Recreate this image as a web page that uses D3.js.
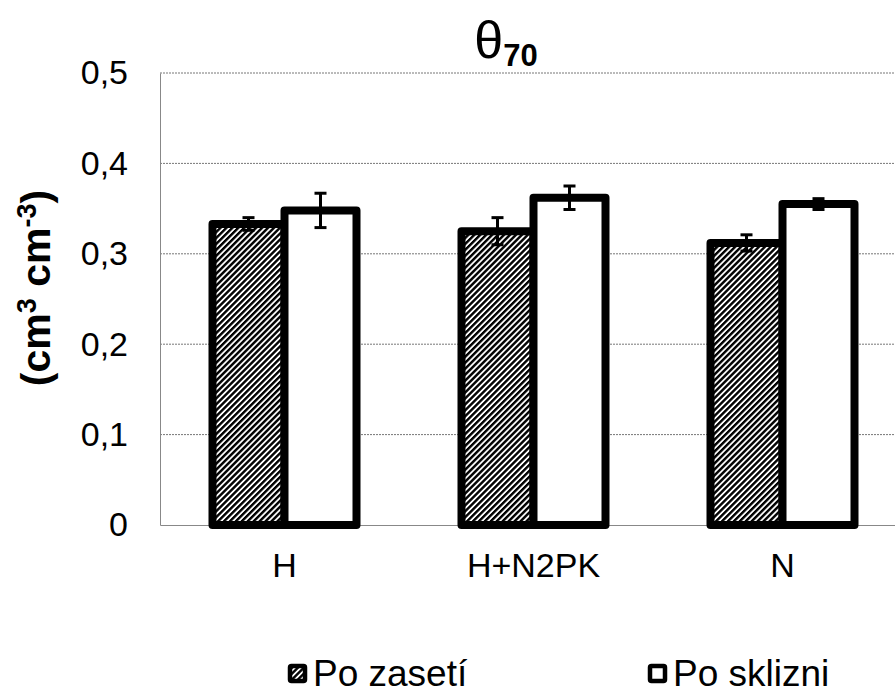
<!DOCTYPE html>
<html>
<head>
<meta charset="utf-8">
<script src="https://cdn.jsdelivr.net/npm/d3@7"></script>
<style>
  body { margin: 0; background: #fff; }
  text { font-family: Arial, "Liberation Sans", sans-serif; }
</style>
</head>
<body>
<svg width="895" height="697"></svg>
<script>
// data
var categories = ['H', 'H+N2PK', 'N'];
var seriesNames = ['Po zasetí', 'Po sklizni'];
var poZaseti = [0.333, 0.325, 0.312];
var poZasetiErr = [0.007, 0.015, 0.009];
var poSklizni = [0.348, 0.362, 0.355];
var poSklizniErr = [0.019, 0.013, 0.006];
var yTicks = [0, 0.1, 0.2, 0.3, 0.4, 0.5];

var margin = { top: 73, left: 160 },
    chartWidth = 747,
    chartHeight = 452;

var svg = d3.select('svg');

// hatch pattern
var defs = svg.append('defs');
var pat = defs.append('pattern')
    .attr('id', 'hatch')
    .attr('patternUnits', 'userSpaceOnUse')
    .attr('width', 4.2)
    .attr('height', 4.2)
    .attr('patternTransform', 'rotate(45)');
pat.append('rect').attr('width', 4.2).attr('height', 4.2).attr('fill', '#fff');
pat.append('line')
    .attr('x1', 1.2).attr('x2', 1.2)
    .attr('y1', 0).attr('y2', 4.2)
    .attr('stroke', '#000').attr('stroke-width', 2.4);

var chart = svg.append('g')
    .attr('transform', 'translate(' + margin.left + ',' + margin.top + ')');

var yScale = d3.scaleLinear().domain([0, 0.5]).range([chartHeight, 0]);
var xScale = d3.scaleBand().domain(categories).range([0, chartWidth]);
var xSub = d3.scaleBand().domain(seriesNames).range([-72, 72]);

// gridlines
chart.append('g')
  .selectAll('line')
  .data(yTicks.filter(function(d) { return d > 0; }))
  .enter().append('line')
    .attr('x1', 0).attr('x2', chartWidth)
    .attr('y1', function(d) { return yScale(d); })
    .attr('y2', function(d) { return yScale(d); })
    .attr('stroke', '#777')
    .attr('stroke-width', 1)
    .attr('stroke-dasharray', '2,1');

// axes
var yAxis = chart.append('g')
    .call(d3.axisLeft(yScale)
      .tickValues(yTicks)
      .tickSize(0)
      .tickPadding(32)
      .tickFormat(function(d) { return d === 0 ? '0' : d3.format('.1f')(d).replace('.', ','); }));
yAxis.select('.domain').attr('stroke', '#888');
yAxis.selectAll('text')
    .attr('font-size', 34)
    .attr('fill', '#000');

var xAxis = chart.append('g')
    .attr('transform', 'translate(0,' + chartHeight + ')')
    .call(d3.axisBottom(xScale).tickSize(0).tickPadding(28));
xAxis.select('.domain').attr('stroke', '#888');
xAxis.selectAll('text')
    .attr('font-size', 34)
    .attr('fill', '#000');

// bars
var rows = categories.map(function(c, i) {
  return [
    { cat: c, s: seriesNames[0], v: poZaseti[i], e: poZasetiErr[i] },
    { cat: c, s: seriesNames[1], v: poSklizni[i], e: poSklizniErr[i] }
  ];
});

var groups = chart.selectAll('.grp')
  .data(rows)
  .enter().append('g')
    .attr('class', 'grp')
    .attr('transform', function(d, i) {
      return 'translate(' + (xScale(categories[i]) + xScale.bandwidth() / 2) + ',0)';
    });

groups.selectAll('rect')
  .data(function(d) { return d; })
  .enter().append('rect')
    .attr('x', function(d) { return xSub(d.s); })
    .attr('width', xSub.bandwidth())
    .attr('y', function(d) { return yScale(d.v); })
    .attr('height', function(d) { return chartHeight - yScale(d.v); })
    .attr('fill', function(d, i) { return i === 0 ? 'url(#hatch)' : '#fff'; })
    .attr('stroke', '#000')
    .attr('stroke-width', 8)
    .attr('stroke-linejoin', 'round');

// error bars
var err = groups.selectAll('.err')
  .data(function(d) { return d; })
  .enter().append('g')
    .attr('class', 'err')
    .attr('transform', function(d) { return 'translate(' + (xSub(d.s) + xSub.bandwidth() / 2) + ',0)'; });
err.append('line')
    .attr('y1', function(d) { return yScale(d.v + d.e); })
    .attr('y2', function(d) { return yScale(d.v - d.e); })
    .attr('stroke', '#000').attr('stroke-width', 3);
err.selectAll('.cap')
  .data(function(d) { return [d.v + d.e, d.v - d.e]; })
  .enter().append('line')
    .attr('x1', -6).attr('x2', 6)
    .attr('y1', function(d) { return yScale(d); })
    .attr('y2', function(d) { return yScale(d); })
    .attr('stroke', '#000').attr('stroke-width', 3);

// title
var title = svg.append('text')
    .attr('x', 506).attr('y', 58)
    .attr('text-anchor', 'middle');
title.append('tspan').attr('font-size', 52).text('θ');
title.append('tspan').attr('font-size', 31).attr('font-weight', 'bold').attr('dy', 8).text('70');

// y title
var yt = svg.append('text')
    .attr('transform', 'translate(50,288) rotate(-90)')
    .attr('text-anchor', 'middle')
    .attr('font-size', 41)
    .attr('font-weight', 'bold');
yt.append('tspan').text('(cm');
yt.append('tspan').attr('font-size', 27).attr('dy', -14).text('3');
yt.append('tspan').attr('dy', 14).text(' cm');
yt.append('tspan').attr('font-size', 27).attr('dy', -14).text('-3');
yt.append('tspan').attr('dy', 14).text(')');

// legend
var legendX = [288, 648];
var legend = svg.selectAll('.leg')
  .data(seriesNames)
  .enter().append('g')
    .attr('class', 'leg')
    .attr('transform', function(d, i) { return 'translate(' + legendX[i] + ',664)'; });
legend.append('rect')
    .attr('x', 2).attr('y', 2)
    .attr('width', 15).attr('height', 15)
    .attr('rx', 1.5)
    .attr('fill', function(d, i) { return i === 0 ? 'url(#hatch)' : '#fff'; })
    .attr('stroke', '#000')
    .attr('stroke-width', 4.5);
legend.append('text')
    .attr('x', 25).attr('y', 22)
    .attr('font-size', 37)
    .text(function(d) { return d; });
</script>
</body>
</html>
